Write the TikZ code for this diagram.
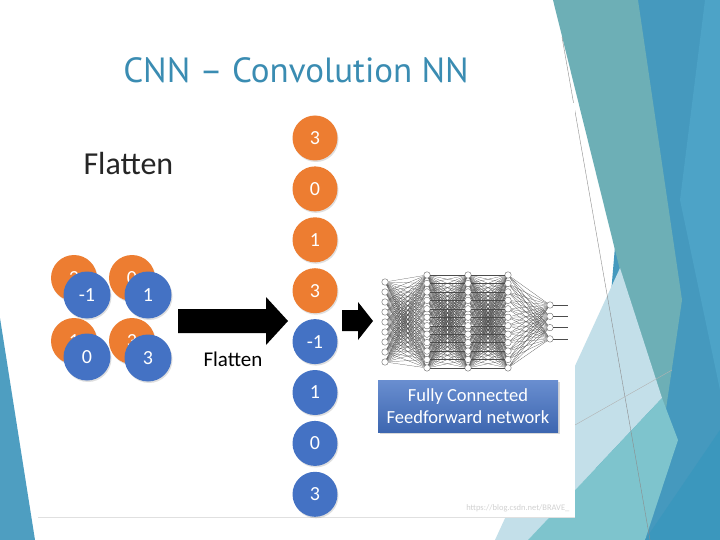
\documentclass[tikz,border=0pt]{standalone}
\usepackage{fontspec}
\setmainfont{Carlito}
\newfontfamily\titlefont{PT Sans}
\usetikzlibrary{shadows}
\definecolor{orng}{HTML}{ED7D31}
\definecolor{blu}{HTML}{4472C4}
\definecolor{ttlblue}{HTML}{3A8CB2}
\definecolor{slteal}{HTML}{6DAFB6}
\definecolor{slblue}{HTML}{4599BE}
\definecolor{slblueb}{HTML}{4DA3C7}
\definecolor{sldark}{HTML}{3B97BD}
\definecolor{sllight}{HTML}{C3DFE9}
\definecolor{slcyan}{HTML}{7EC4CD}
\newcommand{\fsz}[1]{\fontsize{#1}{1.2\dimexpr#1pt\relax}\selectfont}
\begin{document}
\begin{tikzpicture}[x=1pt,y=-1pt,font=\fsz{20},
	orb/.style={circle,minimum size=45pt,inner sep=0pt,text=white,font=\fsz{20},
		drop shadow={opacity=0.25,shadow xshift=1pt,shadow yshift=-1.5pt}},
	orng/.style={orb,fill=orng},
	blu/.style={orb,fill=blu},
	neuron/.style={circle,draw=black!65,fill=white,minimum size=6.5pt,inner sep=0pt,line width=0.35pt},
	syn/.style={black!70,line width=0.22pt},
	fcbox/.style={rectangle,minimum width=180pt,minimum height=52pt,align=center,text=white,
		top color=blu!80!white,bottom color=blu!90!black,font=\fsz{18.5},
		drop shadow={opacity=0.3,shadow xshift=1.5pt,shadow yshift=-1.5pt}}]
	% slide background
	\useasboundingbox (0,0) rectangle (720,540);
	\fill[white] (0,0) rectangle (720,540);
	\fill[slblue] (636,0) -- (720,0) -- (720,540) -- (590,540) -- cycle;
	\fill[slblueb] (705,0) -- (720,0) -- (720,390) -- (680,200) -- cycle;
	\fill[slteal] (553,0) -- (638,0) -- (682,300) -- (660,450) -- (620,270) -- cycle;
	\fill[sllight] (620,268) -- (495,540) -- (528,540) -- (662,398) -- cycle;
	\fill[slcyan] (528,540) -- (662,398) -- (678,440) -- (645,540) -- cycle;
	\fill[sldark] (645,540) -- (720,540) -- (720,430) -- cycle;
	\fill[slblue!95!white] (0,318) -- (35,540) -- (0,540) -- cycle;
	\draw[black!45,line width=0.4pt] (562,37) -- (650,540);
	\draw[black!30,line width=0.4pt] (575,425) -- (672,370);
	% picture
	\fill[white] (38,103) rectangle (575,517);
	\draw[black!12] (38,517) -- (575,517);
	\node[text=ttlblue,font=\titlefont\fsz{35}] (ttl) at (296,70) {CNN – Convolution NN};
	\node[anchor=base west,text=black!85,font=\fsz{32}] (hd) at (80,175) {Flatten};
	% 2x2 input
	\node[orng,minimum size=46pt] (o1) at (74,278) {3};
	\node[orng,minimum size=46pt] (o2) at (132,278) {0};
	\node[orng,minimum size=46pt] (o3) at (74,341) {1};
	\node[orng,minimum size=46pt] (o4) at (132,341) {3};
	\node[blu,minimum size=47pt] (b1) at (87,295) {-1};
	\node[blu,minimum size=47pt] (b2) at (148,295) {1};
	\node[blu,minimum size=47pt] (b3) at (87,357) {0};
	\node[blu,minimum size=47pt] (b4) at (148,358) {3};
	\fill[black] (178,309) -- (266,309) -- (266,297) -- (288,321) -- (266,345) -- (266,333) -- (178,333) -- cycle;
	\node[anchor=base west,font=\fsz{21}] (fl) at (200,366) {Flatten};
	% flattened column
	\foreach \v [count=\i] in {3,0,1,3} \node[orng] (f\i) at (315,{138+50.9*(\i-1)}) {\v};
	\foreach \v [count=\i from 5] in {-1,1,0,3} \node[blu] (f\i) at (315,{138+50.9*(\i-1)}) {\v};
	\fill[black] (342,310) -- (358,310) -- (358,302) -- (373,321) -- (358,340) -- (358,331) -- (342,331) -- cycle;
	% network
	\foreach \i in {1,...,9} \node[neuron] (p\i) at (385,{282+10*(\i-1)}) {};
	\foreach \l/\x in {q/427,r/468,s/508}
		\foreach \i in {1,...,12} \node[neuron] (\l\i) at (\x,{275+8.45*(\i-1)}) {};
	\foreach \i in {1,...,4} \node[neuron] (t\i) at (550,{305+11.3*(\i-1)}) {};
	\foreach \i in {1,...,9} \foreach \j in {1,...,12} \draw[syn] (p\i) -- (q\j);
	\foreach \i in {1,...,12} \foreach \j in {1,...,12} \draw[syn] (q\i) -- (r\j) (r\i) -- (s\j);
	\foreach \i in {1,...,12} \foreach \j in {1,...,4} \draw[syn] (s\i) -- (t\j);
	\foreach \i in {1,...,4} {
		\coordinate (u\i) at (568,{305+11.3*(\i-1)});
		\draw[syn] (t\i) -- (u\i);
	}
	\node[fcbox] (fc) at (468,406) {Fully Connected\\Feedforward network};
	\node[anchor=east,text=black!18,font=\fsz{8.5}] (wm) at (573,508) {https://blog.csdn.net/BRAVE\_};
\end{tikzpicture}
\end{document}
